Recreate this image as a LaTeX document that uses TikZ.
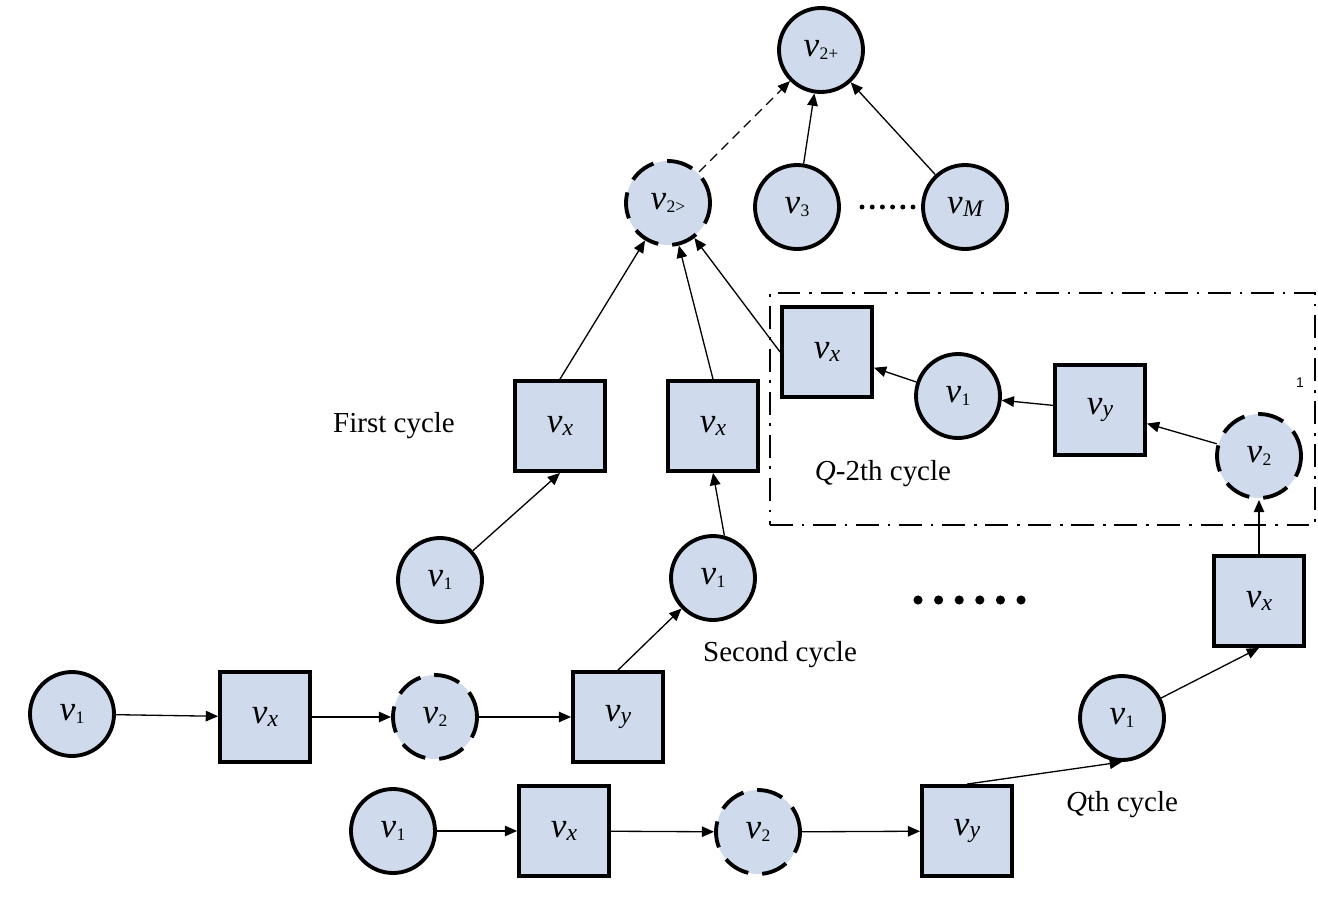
\documentclass[tikz,border=0pt]{standalone}
\usepackage{fontspec}
\setmainfont{Liberation Serif}
\newfontfamily\markfont{Liberation Sans}
\usetikzlibrary{arrows.meta}
\definecolor{nodefill}{RGB}{207,219,236}
% node symbol: italic v with a small lowered index
\newcommand{\vsym}[1]{{\fontsize{20}{20}\selectfont\itshape v}\kern0.02em\raisebox{-0.3ex}{\fontsize{10}{10}\selectfont #1}}
% node symbol with an italic letter as index
\newcommand{\vlet}[1]{{\fontsize{20}{20}\selectfont\itshape v}\kern0.01em\raisebox{-0.3ex}{\fontsize{13.5}{13.5}\selectfont\itshape #1}}
\tikzset{
  solidc/.style={circle, draw, line width=2.2pt, fill=nodefill, minimum size=1.68cm, inner sep=0pt},
  dashc/.style={circle, draw, line width=2.2pt, dash pattern=on 15pt off 8pt, fill=nodefill, minimum size=1.68cm, inner sep=0pt},
  boxn/.style={rectangle, draw, line width=2.2pt, fill=nodefill, minimum size=1.80cm, inner sep=0pt},
  link/.style={-{Triangle[length=7pt,width=6pt]}, line width=0.75pt},
  cyclelabel/.style={font=\fontsize{16.5}{18}\selectfont, inner sep=0pt},
}
\begin{document}
\begin{tikzpicture}[x=0.02cm, y=-0.02cm]
\useasboundingbox (0,0) rectangle (1318,909);

% frame of the Q-2th cycle
\node (qframe) [draw, line width=1.6pt, dash pattern=on 13pt off 5pt on 1.5pt off 5pt,
  minimum width=10.9cm, minimum height=4.64cm, inner sep=0pt] at (1042.5,409) {};

% top of the tree
\node[solidc] (v2p) at (821,50) {\vsym{2+}};
\node[dashc]  (v2g) at (668,203) {\vsym{2>}};
\node[solidc] (v3)  at (797,207) {\vsym{3}};
\node[solidc] (vM)  at (965,207) {\vlet{M}};
\foreach \i in {0,...,5} \fill (862+\i*10.2,207) circle[radius=1.4pt];

% first cycle
\node[boxn] (vxa) at (560,426) {\vlet{x}};
\node[solidc] (v1a) at (440,580) {\vsym{1}};
\node[cyclelabel] (lfirst) at (394,426) {First cycle};

% second cycle
\node[boxn] (vxb) at (713,426) {\vlet{x}};
\node[solidc] (v1b) at (713,578) {\vsym{1}};
\node[cyclelabel] (lsecond) at (780,655) {Second cycle};
\node[solidc] (m1) at (72,714) {\vsym{1}};
\node[boxn]   (mx) at (265,717) {\vlet{x}};
\node[dashc]  (m2) at (435,717) {\vsym{2}};
\node[boxn]   (my) at (618,717) {\vlet{y}};

% Q-2th cycle
\node[boxn]   (qvx) at (827,352) {\vlet{x}};
\node[solidc] (qv1) at (958,396) {\vsym{1}};
\node[boxn]   (qvy) at (1100,410) {\vlet{y}};
\node[dashc]  (qv2) at (1259,456) {\vsym{2}};
\node[cyclelabel] (lq2) at (883,474) {\textit{Q}-2th cycle};
\node[font=\markfont\fontsize{8}{8}\selectfont, inner sep=0pt] (mark) at (1300,383) {1};

% Qth cycle
\node[boxn]   (rvx) at (1259,601) {\vlet{x}};
\node[solidc] (Qv1) at (1122,718) {\vsym{1}};
\node[cyclelabel] (lq) at (1122,805) {\textit{Q}th cycle};
\node[solidc] (b1) at (393,831) {\vsym{1}};
\node[boxn]   (bx) at (564,831) {\vlet{x}};
\node[dashc]  (b2) at (758,832) {\vsym{2}};
\node[boxn]   (by) at (967,831) {\vlet{y}};

\foreach \i in {0,...,5} \fill (918+\i*20.6,600) circle[radius=2.6pt];

% connectors
\draw[link, dash pattern=on 5.5pt off 3.5pt] (v2g) -- (v2p);
\draw[link] (v3) -- (v2p);
\draw[link] (vM) -- (v2p);
\draw[link] (vxa.north) -- (v2g);
\draw[link] (vxb.north) -- (v2g);
\draw[link] (qvx.west) -- (v2g);
\draw[link] (v1a) -- (vxa.south);
\draw[link] (v1b.75) -- (vxb.south);
\draw[link] (m1) -- (mx);
\draw[link] (mx) -- (m2);
\draw[link] (m2) -- (my);
\draw[link] (my.north) -- (v1b);
\draw[link] (qv1) -- (qvx);
\draw[link] (qvy) -- (qv1);
\draw[link] (qv2) -- (qvy);
\draw[link] (rvx) -- (qv2);
\draw[link] (Qv1) -- (rvx.south);
\draw[link] (by.north) -- (Qv1.south);
\draw[link] (b1) -- (bx);
\draw[link] (bx) -- (b2);
\draw[link] (b2) -- (by);
\end{tikzpicture}
\end{document}
